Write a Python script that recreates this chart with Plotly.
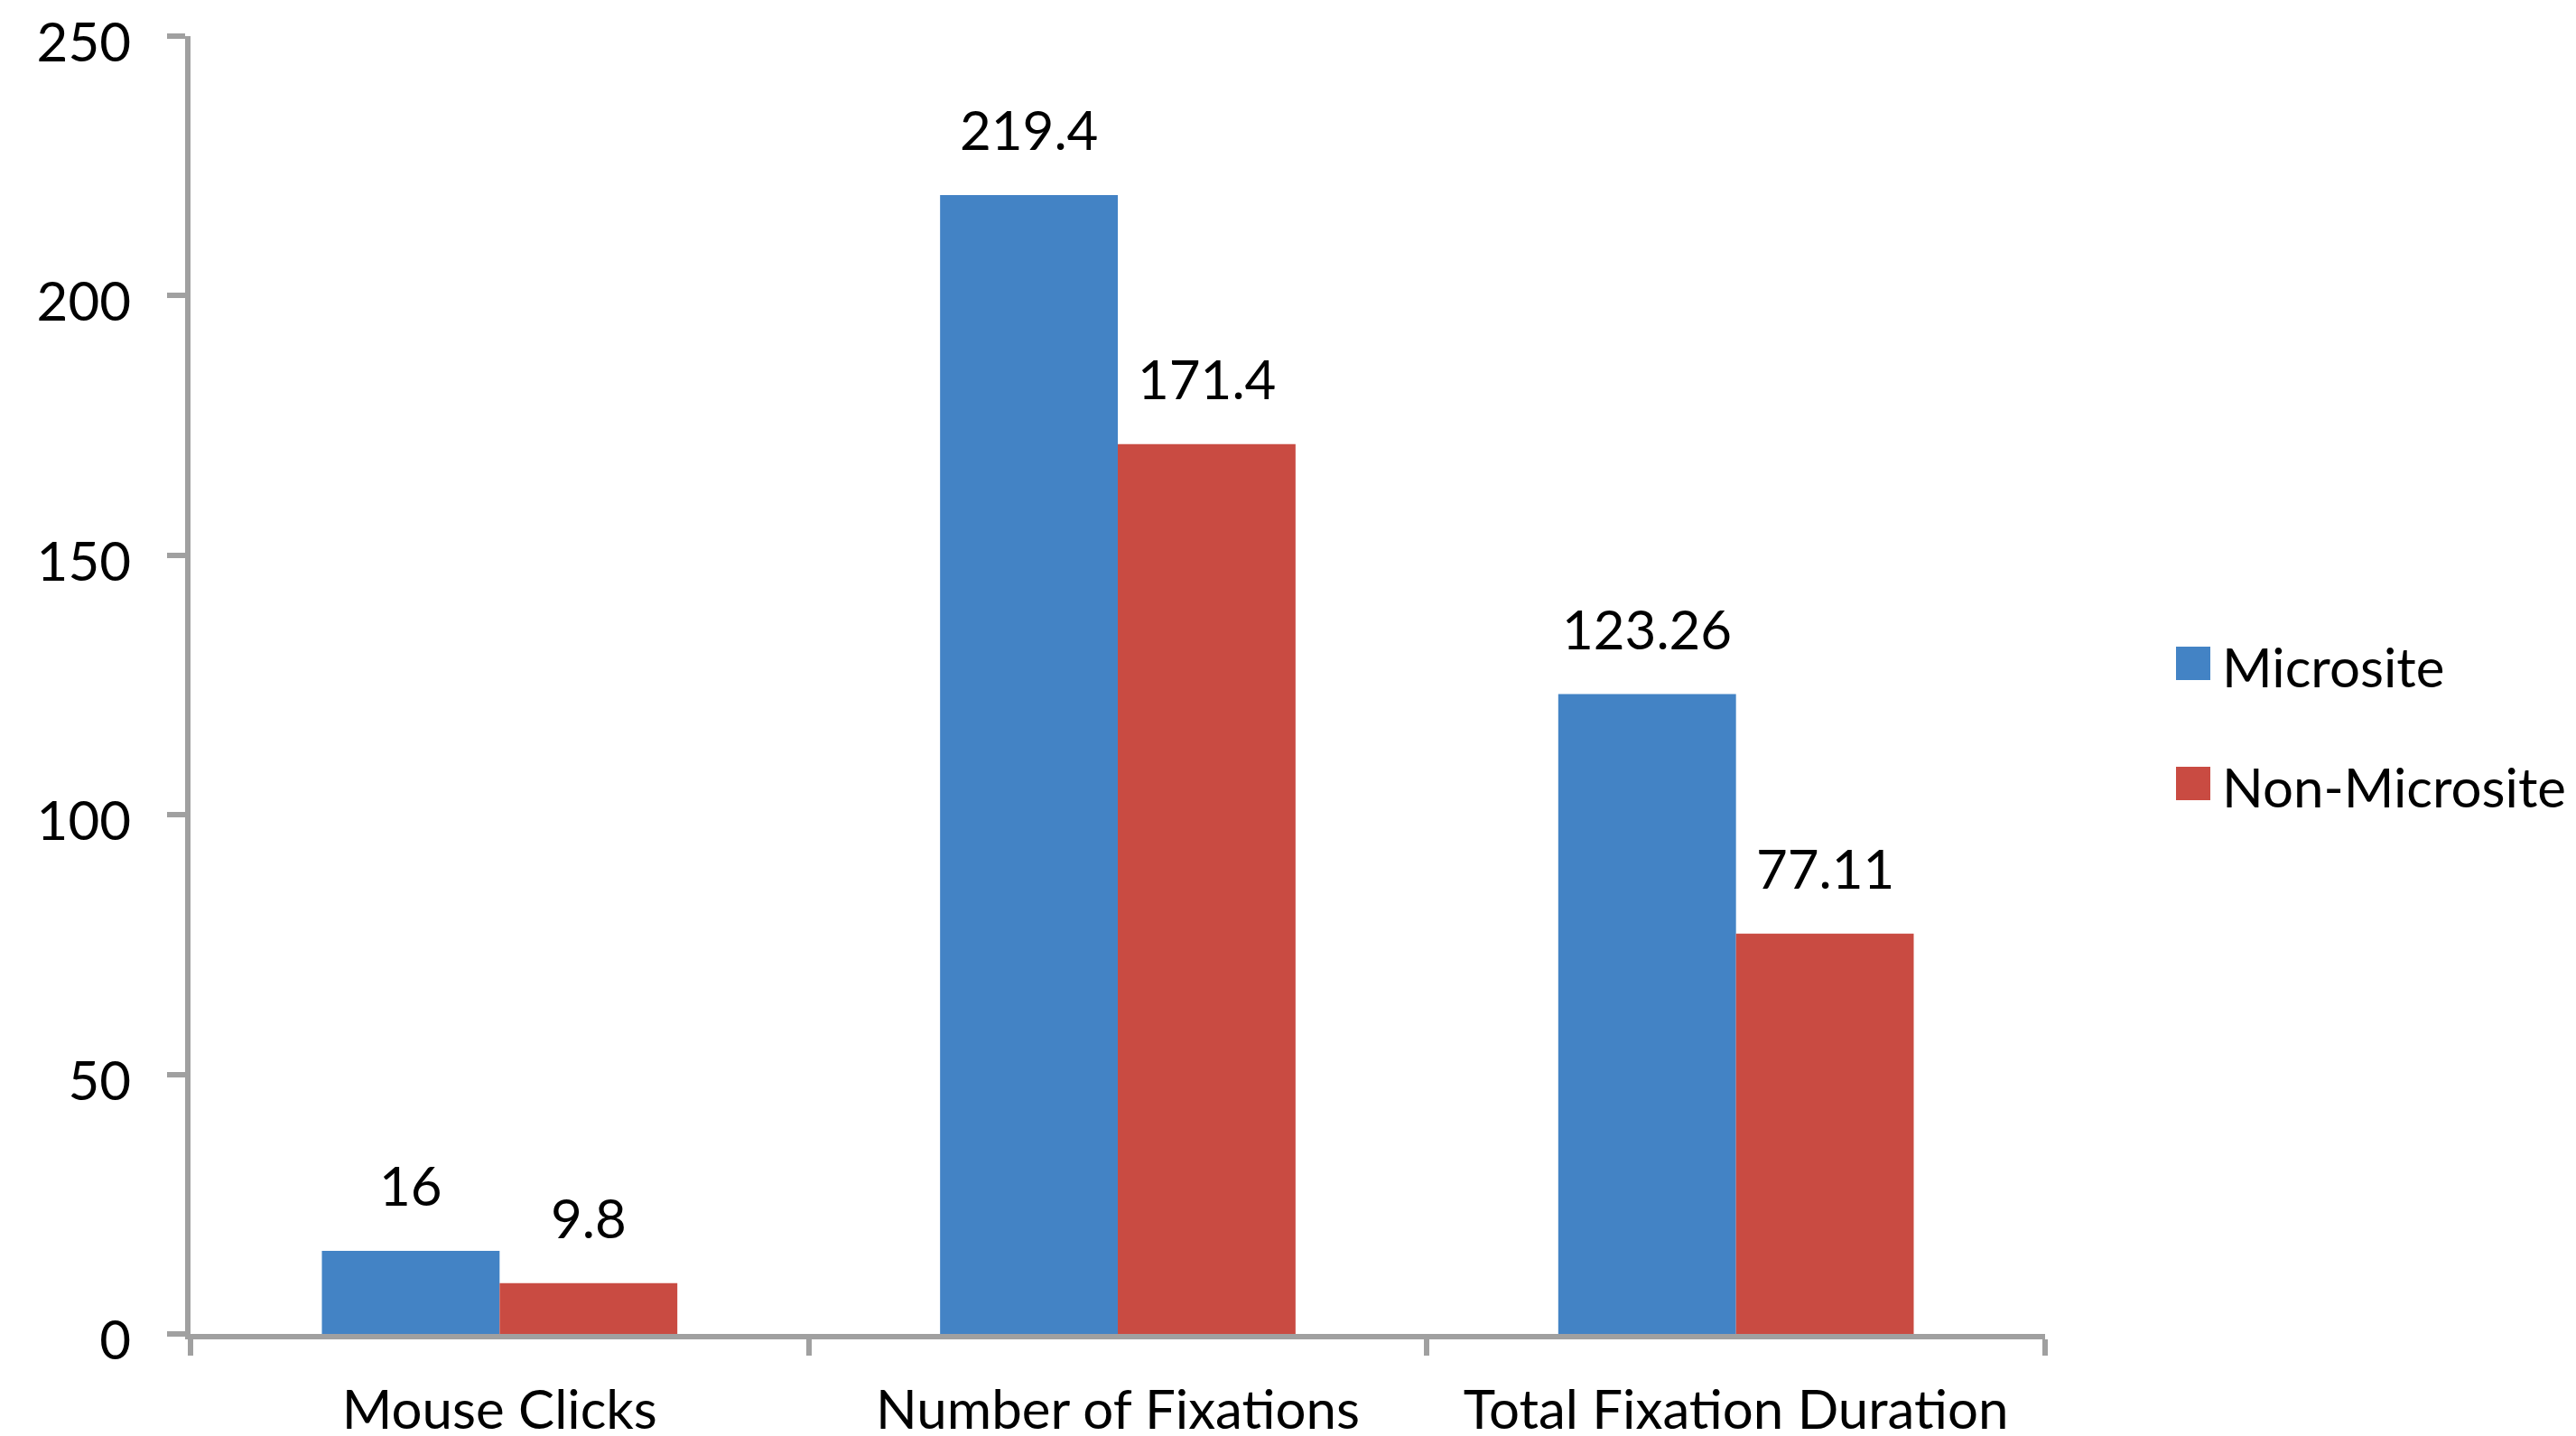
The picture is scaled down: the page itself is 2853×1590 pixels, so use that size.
import plotly.graph_objects as go

categories = ["Mouse Clicks", "Number of Fixations", "Total Fixation Duration"]
series_names = ["Microsite", "Non-Microsite"]
microsite = [16, 219.4, 123.26]
non_microsite = [9.8, 171.4, 77.11]
y_ticks = [0, 50, 100, 150, 200, 250]

W, H = 2853, 1590
ML, MR, MT, MB = 203, 596, 32, 121
FONT = "Lato"
FS = 60
AXIS_GRAY = "#A0A0A0"
LW = 6
COLORS = ["#4383C5", "#C94B42"]
BARGAP = 0.425

fig = go.Figure()
for name, vals, col in zip(series_names, [microsite, non_microsite], COLORS):
    fig.add_trace(go.Bar(
        name=name, x=categories, y=vals,
        marker=dict(color=col, line=dict(width=0)),
        showlegend=False, hoverinfo="x+y",
    ))

# data labels above bars
half = (1 - BARGAP) / 4
annotations = []
for k, vals in enumerate([microsite, non_microsite]):
    off = -half if k == 0 else half
    for i, v in enumerate(vals):
        annotations.append(dict(
            x=i + off, y=v, xref="x", yref="y", text=f"{v:g}",
            showarrow=False, yanchor="bottom", xanchor="center", yshift=35,
            font=dict(family=FONT, size=FS, color="black"),
        ))

# custom legend (plot-paper coordinates computed from pixel layout)
pw, ph = W - ML - MR, H - MT - MB
def px(x):
    return (x - ML) / pw
def py(y):
    return (H - MB - y) / ph

shapes = []
legend_rows = [(708, 745), (841, 878)]
for name, col, (y0, y1) in zip(series_names, COLORS, legend_rows):
    shapes.append(dict(type="rect", xref="paper", yref="paper",
                       x0=px(2402), x1=px(2440), y0=py(y1), y1=py(y0),
                       fillcolor=col, line=dict(width=0)))
    annotations.append(dict(x=px(2451), y=py((y0 + y1) / 2 + 3), xref="paper", yref="paper",
                            text=name, showarrow=False, xanchor="left", yanchor="middle",
                            font=dict(family=FONT, size=FS, color="black")))

fig.update_layout(
    width=W, height=H,
    margin=dict(l=ML, r=MR, t=MT, b=MB),
    paper_bgcolor="white", plot_bgcolor="white",
    barmode="group", bargap=BARGAP, bargroupgap=0,
    font=dict(family=FONT, size=FS, color="black"),
    annotations=annotations, shapes=shapes,
    xaxis=dict(
        type="category", showgrid=False, zeroline=False, automargin=False,
        showline=True, linecolor=AXIS_GRAY, linewidth=LW,
        ticks="outside", tickson="boundaries", ticklen=18, tickwidth=LW, tickcolor=AXIS_GRAY,
        tickfont=dict(family=FONT, size=FS, color="black"), ticklabelstandoff=27,
    ),
    yaxis=dict(
        range=[0, 250], tickvals=y_ticks, showgrid=False, zeroline=False, automargin=False,
        showline=True, linecolor=AXIS_GRAY, linewidth=LW,
        ticks="outside", ticklen=20, tickwidth=LW, tickcolor=AXIS_GRAY,
        tickfont=dict(family=FONT, size=FS, color="black"), ticklabelstandoff=28,
        ticklabelshift=7, ticklabeloverflow="allow",
    ),
)

fig.write_html("out.html")
